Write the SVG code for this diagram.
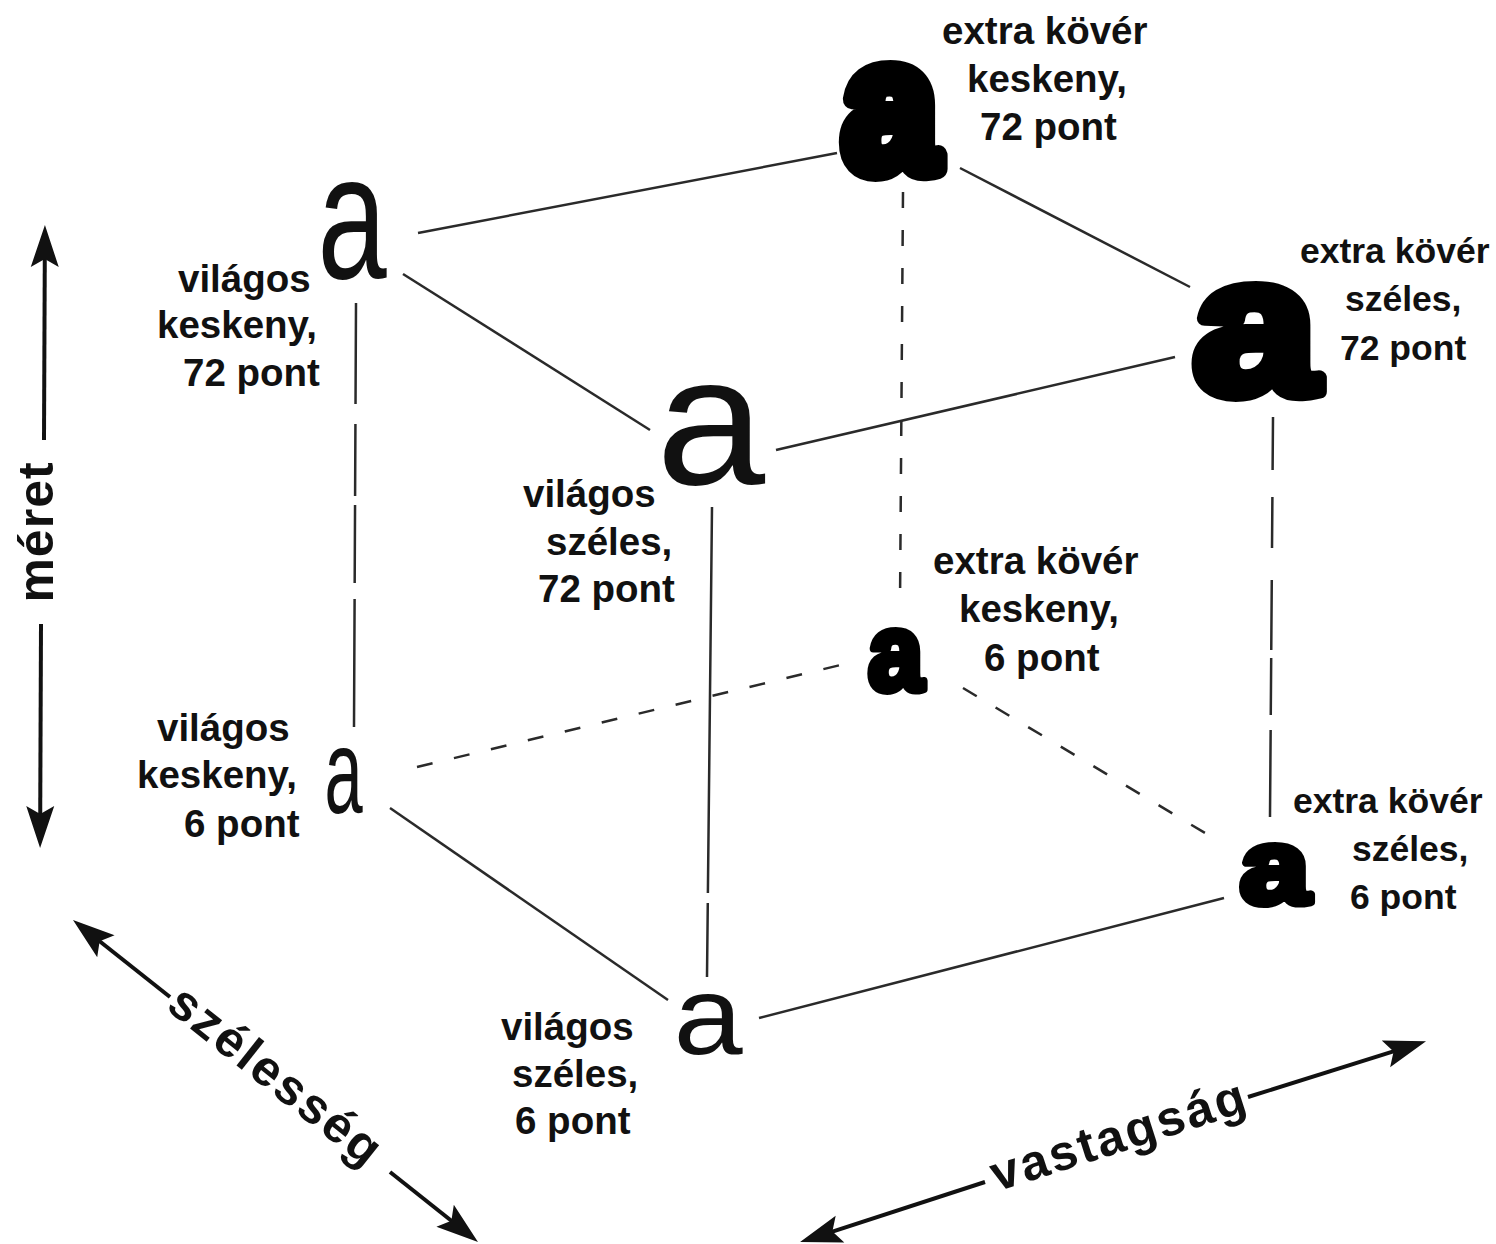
<svg xmlns="http://www.w3.org/2000/svg" width="1496" height="1244" viewBox="0 0 1496 1244">
<style>
  .bg { fill: #ffffff; }
  .lbl { font-family: "Liberation Sans", Arial, sans-serif; font-weight: 700; font-size: 38.5px; fill: #111111; }
  .lbl.sm { font-size: 35.5px; }
  .ax { font-family: "Liberation Sans", Arial, sans-serif; font-weight: 700; font-size: 50px; fill: #111111; }
  .lt { font-family: "Liberation Sans", Arial, sans-serif; font-weight: 400; fill: #111111; }
  .hv { font-family: "Liberation Sans", Arial, sans-serif; font-weight: 700; fill: #000000; stroke: #000000; stroke-linejoin: round; }
  .e { stroke: #2a2a2a; stroke-width: 2.5; fill: none; }
  .d { stroke-dasharray: 16 22; }
  .arr { stroke: #111111; stroke-width: 4; fill: none; }
</style>
<defs>
  <marker id="ah" markerUnits="userSpaceOnUse" viewBox="-14 -16 46 32" refX="0" refY="0" markerWidth="46" markerHeight="32" orient="auto-start-reverse">
    <path d="M30,0 L-12,-14 L-4,0 L-12,14 Z" fill="#111111"/>
  </marker>
</defs>
<rect class="bg" x="0" y="0" width="1496" height="1244"/>

<g id="connectors">
  <line class="e" x1="418" y1="233" x2="837" y2="153"/>
  <line class="e" x1="403" y1="274" x2="650" y2="430"/>
  <line class="e" x1="960" y1="168" x2="1190" y2="287"/>
  <line class="e" x1="776" y1="450" x2="1175" y2="357"/>
  <line class="e" x1="356" y1="303" x2="354" y2="727" stroke-dasharray="101 20 72 9 78 16 128"/>
  <line class="e d" x1="903" y1="192" x2="900" y2="605"/>
  <line class="e" x1="712" y1="507" x2="707" y2="977" stroke-dasharray="386 10 200"/>
  <line class="e" x1="1273" y1="417" x2="1270" y2="817" stroke-dasharray="53 27 51 32 70 8 57 15 87 0"/>
  <line class="e d" x1="417" y1="767" x2="853" y2="662"/>
  <line class="e d" x1="963" y1="688" x2="1210" y2="836"/>
  <line class="e" x1="390" y1="808" x2="668" y2="1000"/>
  <line class="e" x1="759" y1="1018" x2="1224" y2="898"/>
</g>

<g id="axis-meret">
  <line class="arr" x1="44.8" y1="255" x2="44" y2="440" marker-start="url(#ah)"/>
  <line class="arr" x1="41" y1="624" x2="40.2" y2="818" marker-end="url(#ah)"/>
  <text class="ax" transform="translate(53,532) rotate(-90)" text-anchor="middle" letter-spacing="1">méret</text>
</g>

<g id="axis-szelesseg">
  <line class="arr" x1="96.5" y1="938.7" x2="170" y2="997" marker-start="url(#ah)"/>
  <line class="arr" x1="390" y1="1172" x2="454.5" y2="1223.3" marker-end="url(#ah)"/>
  <text class="ax" transform="translate(266,1089) rotate(38.5)" text-anchor="middle" letter-spacing="2.5">szélesség</text>
</g>

<g id="axis-vastagsag">
  <line class="arr" x1="828.6" y1="1232.8" x2="985" y2="1182" marker-start="url(#ah)"/>
  <line class="arr" x1="1248" y1="1097" x2="1397.4" y2="1050.2" marker-end="url(#ah)"/>
  <text class="ax" transform="translate(1124,1151) rotate(-17.8)" text-anchor="middle" letter-spacing="2.5">vastagság</text>
</g>

<g id="node-vilagos-keskeny-72">
  <text class="lt" font-size="179" transform="translate(317.5,277.9) scale(0.695,1)">a</text>
  <text class="lbl" x="178" y="292">világos</text>
  <text class="lbl" x="157" y="338">keskeny,</text>
  <text class="lbl" x="183" y="386">72 pont</text>
</g>

<g id="node-extra-kover-keskeny-72">
  <text class="hv" font-size="185" stroke-width="20" transform="translate(843,170) scale(0.917,1)">a</text>
  <text class="lbl" x="942" y="44">extra kövér</text>
  <text class="lbl" x="967" y="92">keskeny,</text>
  <text class="lbl" x="980" y="140">72 pont</text>
</g>

<g id="node-vilagos-szeles-72">
  <text class="lt" font-size="184.5" transform="translate(656,483.8) scale(1.063,1)">a</text>
  <text class="lbl" x="523" y="507">világos</text>
  <text class="lbl" x="546" y="555">széles,</text>
  <text class="lbl" x="538" y="602">72 pont</text>
</g>

<g id="node-extra-kover-szeles-72">
  <text class="hv" font-size="194.5" stroke-width="14" transform="translate(1193,393) scale(1.15,1)">a</text>
  <text class="lbl sm" x="1300" y="263">extra kövér</text>
  <text class="lbl sm" x="1345" y="311">széles,</text>
  <text class="lbl sm" x="1340" y="360">72 pont</text>
</g>

<g id="node-extra-kover-keskeny-6">
  <text class="hv" font-size="110" stroke-width="8" transform="translate(868,689.5) scale(0.905,1)">a</text>
  <text class="lbl" x="933" y="574">extra kövér</text>
  <text class="lbl" x="959" y="622">keskeny,</text>
  <text class="lbl" x="984" y="671">6 pont</text>
</g>

<g id="node-vilagos-keskeny-6">
  <text class="lt" font-size="120" transform="translate(324.5,812.6) scale(0.572,1)">a</text>
  <text class="lbl" x="157" y="741">világos</text>
  <text class="lbl" x="137" y="788">keskeny,</text>
  <text class="lbl" x="184" y="837">6 pont</text>
</g>

<g id="node-vilagos-szeles-6">
  <text class="lt" font-size="111" transform="translate(673.5,1053.7) scale(1.12,1)">a</text>
  <text class="lbl" x="501" y="1040">világos</text>
  <text class="lbl" x="512" y="1087">széles,</text>
  <text class="lbl" x="515" y="1134">6 pont</text>
</g>

<g id="node-extra-kover-szeles-6">
  <text class="hv" font-size="106" stroke-width="8" transform="translate(1240,902.5) scale(1.18,1)">a</text>
  <text class="lbl sm" x="1293" y="813">extra kövér</text>
  <text class="lbl sm" x="1352" y="861">széles,</text>
  <text class="lbl sm" x="1350" y="909">6 pont</text>
</g>
</svg>
